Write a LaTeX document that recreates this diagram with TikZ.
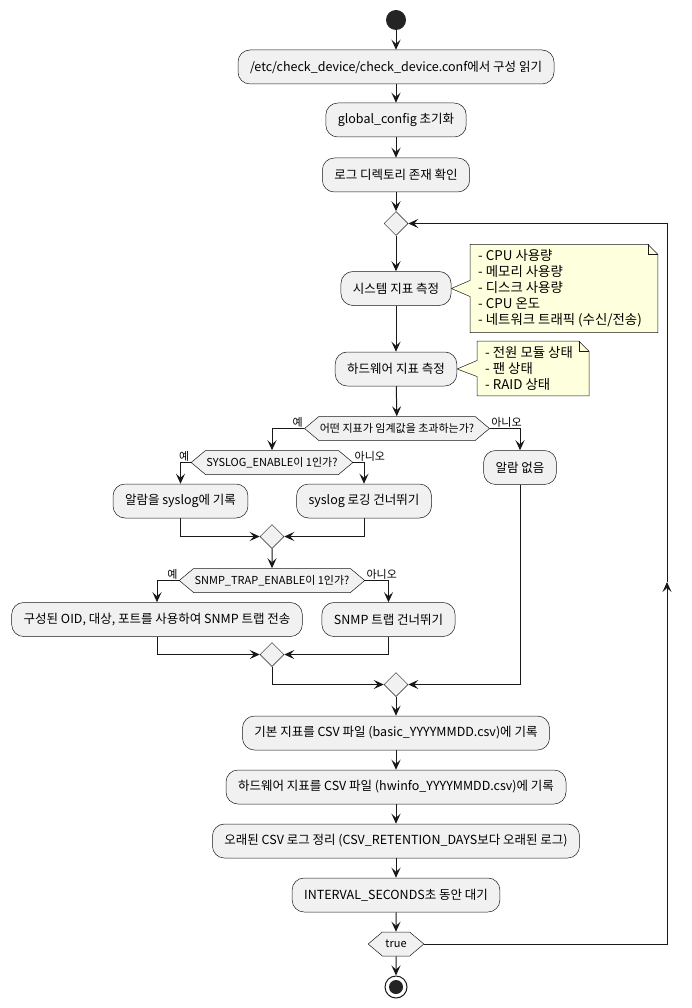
\documentclass[tikz,border=0pt]{standalone}
\usepackage{fontspec}
\setmainfont{Noto Sans CJK KR}
\usetikzlibrary{positioning,shapes.geometric,shapes.symbols,arrows.meta,calc,backgrounds}

\definecolor{actfill}{HTML}{F1F1F1}
\definecolor{linecol}{HTML}{181818}
\definecolor{notefill}{HTML}{FEFFDD}

\tikzset{
  act/.style={draw=linecol, fill=actfill, rounded corners=12pt, line width=0.5pt, minimum height=34pt, inner xsep=12pt, font=\fontsize{12.5}{14}\selectfont},
  cond/.style={draw=linecol, fill=actfill, line width=0.5pt, signal, signal to=west and east, signal pointer angle=80, minimum height=24pt, inner xsep=1pt, inner ysep=0pt, font=\fontsize{11}{13}\selectfont},
  merge/.style={draw=linecol, fill=actfill, line width=0.5pt, diamond, minimum width=24pt, minimum height=24pt, inner sep=0pt},
  flow/.style={draw=linecol, line width=1pt, -{Stealth[length=10pt,width=9pt,inset=4pt]}},
  lbl/.style={font=\fontsize{11}{13}\selectfont, inner sep=1pt},
  notebox/.style={align=left, inner xsep=8pt, inner ysep=5pt, font=\fontsize{13.4}{16}\selectfont},
  noteline/.style={draw=linecol, fill=notefill, line width=0.5pt},
}

\begin{document}
\begin{tikzpicture}[x=1pt, y=-1pt]
  \useasboundingbox (0,0) rectangle (691,1008);

  % main column
  \node[circle, fill=linecol!95, minimum size=20pt, inner sep=0pt] (start) at (396,20) {};
  \node[act] (read) at (396,67) {/etc/check\_device/check\_device.conf에서 구성 읽기};
  \node[act] (init) at (396,120) {global\_config 초기화};
  \node[act] (logdir) at (396,175) {로그 디렉토리 존재 확인};
  \node[merge] (m1) at (396,223.5) {};
  \node[act] (sys) at (396,288.5) {시스템 지표 측정};
  \node[act] (hw) at (396,369) {하드웨어 지표 측정};
  \node[notebox, anchor=west] (note1) at (470,288.5) {- CPU 사용량\\- 메모리 사용량\\- 디스크 사용량\\- CPU 온도\\- 네트워크 트래픽 (수신/전송)};
  \node[notebox, anchor=west] (note2) at (477,368.5) {- 전원 모듈 상태\\- 팬 상태\\- RAID 상태};

  % threshold check
  \node[cond] (alarmq) at (397,428.5) {어떤 지표가 임계값을 초과하는가?};
  \node[cond] (syslogq) at (272,462.5) {SYSLOG\_ENABLE이 1인가?};
  \node[act] (sysyes) at (180.5,501) {알람을 syslog에 기록};
  \node[act] (sysno) at (364,501) {syslog 로깅 건너뛰기};
  \node[merge] (m2) at (272,536.5) {};
  \node[cond] (snmpq) at (272,580.5) {SNMP\_TRAP\_ENABLE이 1인가?};
  \node[act] (snmpyes) at (157,619.5) {구성된 OID, 대상, 포트를 사용하여 SNMP 트랩 전송};
  \node[act] (snmpno) at (388.5,619.5) {SNMP 트랩 건너뛰기};
  \node[merge] (m3) at (272,654.5) {};
  \node[act] (noalarm) at (520,467.5) {알람 없음};
  \node[merge] (m4) at (396,684.5) {};

  % csv and wait
  \node[act] (basic) at (396,733) {기본 지표를 CSV 파일 (basic\_YYYYMMDD.csv)에 기록};
  \node[act] (hwcsv) at (396,787) {하드웨어 지표를 CSV 파일 (hwinfo\_YYYYMMDD.csv)에 기록};
  \node[act] (clean) at (396,841) {오래된 CSV 로그 정리 (CSV\_RETENTION\_DAYS보다 오래된 로그)};
  \node[act] (wait) at (396,895) {INTERVAL\_SECONDS초 동안 대기};
  \node[cond, inner xsep=3pt] (loopq) at (396,944) {true};
  \node[circle, draw=linecol, line width=1pt, fill=white, minimum size=22pt, inner sep=0pt] (stop) at (396,987) {};
  \node[circle, fill=linecol!95, minimum size=14pt, inner sep=0pt] at (stop) {};
  \coordinate (loopmid) at (667,582);

  % notes
  \begin{scope}[on background layer]
    \draw[noteline] (note1.north west) -- ($(note1.north east)+(-2,0)$) -- ($(note1.north east)+(8,10)$) -- ($(note1.south east)+(8,0)$) -- (note1.south west) -- ($(note1.west)+(0,8)$) -- (sys.east) -- ($(note1.west)+(0,-8)$) -- cycle;
    \draw[noteline, fill=none] ($(note1.north east)+(-2,0)$) -- ($(note1.north east)+(-2,10)$) -- ($(note1.north east)+(8,10)$);
    \draw[noteline] (note2.north west) -- ($(note2.north east)+(-2,0)$) -- ($(note2.north east)+(8,10)$) -- ($(note2.south east)+(8,0)$) -- (note2.south west) -- ($(note2.west)+(0,8)$) -- (hw.east) -- ($(note2.west)+(0,-8)$) -- cycle;
    \draw[noteline, fill=none] ($(note2.north east)+(-2,0)$) -- ($(note2.north east)+(-2,10)$) -- ($(note2.north east)+(8,10)$);
  \end{scope}

  % connectors
  \draw[flow] (start) -- (read);
  \draw[flow] (read) -- (init);
  \draw[flow] (init) -- (logdir);
  \draw[flow] (logdir) -- (m1);
  \draw[flow] (m1) -- (sys);
  \draw[flow] (sys) -- (hw);
  \draw[flow] (hw) -- (alarmq);
  \draw[flow] (alarmq.west) node[lbl, anchor=south east] {예} -| (syslogq.north);
  \draw[flow] (alarmq.east) node[lbl, anchor=south west] {아니오} -| (noalarm.north);
  \draw[flow] (syslogq.west) node[lbl, anchor=south east] {예} -| (sysyes.north);
  \draw[flow] (syslogq.east) node[lbl, anchor=south west] {아니오} -| (sysno.north);
  \draw[flow] (sysyes.south) |- (m2.west);
  \draw[flow] (sysno.south) |- (m2.east);
  \draw[flow] (m2) -- (snmpq);
  \draw[flow] (snmpq.west) node[lbl, anchor=south east] {예} -| (snmpyes.north);
  \draw[flow] (snmpq.east) node[lbl, anchor=south west] {아니오} -| (snmpno.north);
  \draw[flow] (snmpyes.south) |- (m3.west);
  \draw[flow] (snmpno.south) |- (m3.east);
  \draw[flow] (m3.south) |- (m4.west);
  \draw[flow] (noalarm.south) |- (m4.east);
  \draw[flow] (m4) -- (basic);
  \draw[flow] (basic) -- (hwcsv);
  \draw[flow] (hwcsv) -- (clean);
  \draw[flow] (clean) -- (wait);
  \draw[flow] (wait) -- (loopq);
  \draw[flow] (loopq) -- (stop);
  \draw[flow] (loopq.east) -| (loopmid);
  \draw[flow] (loopmid) |- (m1.east);
\end{tikzpicture}
\end{document}
